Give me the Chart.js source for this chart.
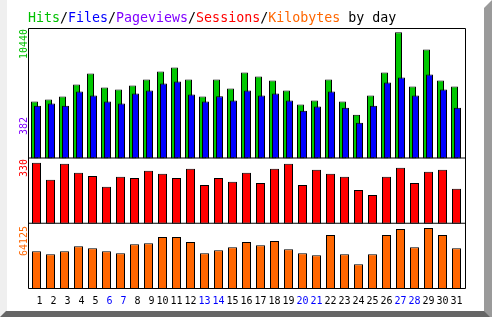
<!DOCTYPE html>
<html>
<head>
<meta charset="utf-8">
<script src="https://cdn.jsdelivr.net/npm/chart.js@4.4.1/dist/chart.umd.min.js"></script>
<style>
  html, body { margin: 0; padding: 0; background: #fff; }
  canvas { display: block; }
</style>
</head>
<body>
<canvas id="dailyChart" width="492" height="317"></canvas>
<script>
// daily usage
const days = [1, 2, 3, 4, 5, 6, 7, 8, 9, 10, 11, 12, 13, 14, 15, 16, 17, 18, 19, 20, 21, 22, 23, 24, 25, 26, 27, 28, 29, 30, 31];
const weekendDays = [6, 7, 13, 14, 20, 21, 27, 28];

const hits = [4710, 4875, 5125, 6120, 7035, 5870, 5705, 6040, 6535, 7200, 7535, 6535, 5125, 6535, 5790, 7115,
  6785, 6455, 5620, 4460, 4790, 6535, 4710, 3630, 5205, 7115, 10440, 5955, 9030, 6455, 5955];
const files = [4375, 4545, 4375, 5540, 5205, 4710, 4545, 5375, 5620, 6205, 6370, 5290, 4710, 5150, 4790, 5620,
  5205, 5375, 4790, 3960, 4295, 5540, 4210, 2965, 4375, 6285, 6700, 5205, 6950, 5705, 4210];
const sessions = [330, 238, 325, 276, 259, 200, 254, 248, 287, 270, 248, 297, 210, 248, 227, 276,
  221, 297, 325, 210, 292, 270, 254, 183, 156, 254, 303, 221, 281, 292, 189];
const kbytes = [39826, 36657, 39826, 45108, 42996, 39826, 37713, 47221, 48278, 54616, 54616, 49334, 37713, 40883, 44052, 49334,
  46165, 50390, 41939, 37713, 35601, 56729, 36657, 26093, 36657, 56729, 63067, 44052, 64125, 56729, 42996];
const maxPageviews = 382;

const titleParts = [
  ["Hits", "#00c000"], ["/", "#000"], ["Files", "#0000ff"], ["/", "#000"],
  ["Pageviews", "#8000ff"], ["/", "#000"], ["Sessions", "#ff0000"], ["/", "#000"],
  ["Kilobytes", "#ff6600"], [" by day", "#000"]
];

const MONO = "'DejaVu Sans Mono', 'Liberation Mono', monospace";

// bevelled frame + title behind the chart
const framePlugin = {
  id: "frame",
  beforeDraw(chart) {
    const ctx = chart.ctx;
    ctx.save();
    ctx.fillStyle = "#fff";
    ctx.fillRect(0, 0, 492, 317);
    ctx.fillStyle = "#efefef";
    ctx.fillRect(0, 0, 7, 317);
    ctx.fillStyle = "#9a9a9a";
    ctx.beginPath();
    ctx.moveTo(492, 0); ctx.lineTo(492, 317); ctx.lineTo(484, 317); ctx.lineTo(484, 8);
    ctx.closePath(); ctx.fill();
    ctx.fillStyle = "#666";
    ctx.beginPath();
    ctx.moveTo(6, 311); ctx.lineTo(484, 311); ctx.lineTo(490, 317); ctx.lineTo(0, 317);
    ctx.closePath(); ctx.fill();

    // multicoloured title
    ctx.font = "13.3px " + MONO;
    ctx.textBaseline = "alphabetic";
    let x = 28;
    titleParts.forEach(([txt, col]) => {
      ctx.fillStyle = col;
      ctx.fillText(txt, x, 22);
      x += ctx.measureText(txt).width;
    });
    ctx.restore();
  },
  // small side shift so hits and files bars overlap
  beforeDatasetDraw(chart, args) {
    const shift = chart.data.datasets[args.index].shift || 0;
    chart.ctx.save();
    chart.ctx.translate(shift, 0);
  },
  afterDatasetDraw(chart) {
    chart.ctx.restore();
  },
  afterDraw(chart) {
    const ctx = chart.ctx;
    const area = chart.chartArea;
    const s = chart.scales;
    const left = Math.floor(area.left) - 1 + 0.5;
    const right = Math.floor(area.right) + 2 + 0.5;
    ctx.save();
    ctx.strokeStyle = "#000";
    ctx.lineWidth = 1;
    ctx.beginPath();
    ctx.rect(left, area.top + 0.5, right - left, area.bottom - area.top - 1);
    ctx.moveTo(left, s.yHits.bottom - 0.5); ctx.lineTo(right, s.yHits.bottom - 0.5);
    ctx.moveTo(left, s.ySess.bottom - 0.5); ctx.lineTo(right, s.ySess.bottom - 0.5);
    ctx.stroke();

    // rotated max labels on the left
    ctx.font = "10px " + MONO;
    const side = [
      [String(Math.max(...hits)), "#00c000", 59],
      [String(maxPageviews), "#8000ff", 135],
      [String(Math.max(...sessions)), "#ff0000", 177],
      [String(Math.max(...kbytes)), "#ff6600", 256]
    ];
    side.forEach(([txt, col, y]) => {
      ctx.save();
      ctx.translate(27, y);
      ctx.rotate(-Math.PI / 2);
      ctx.fillStyle = col;
      ctx.textAlign = "left";
      ctx.textBaseline = "alphabetic";
      ctx.fillText(txt, 0, 0);
      ctx.restore();
    });
    ctx.restore();
  }
};

const barBase = { borderColor: "#000", borderWidth: 1, borderSkipped: false, grouped: false, categoryPercentage: 1 };

new Chart(document.getElementById("dailyChart"), {
  type: "bar",
  data: {
    labels: days,
    datasets: [
      Object.assign({ label: "Hits", data: hits, backgroundColor: "#00c800", yAxisID: "yHits", barPercentage: 0.5, shift: -2, order: 1 }, barBase),
      Object.assign({ label: "Files", data: files, backgroundColor: "#0000ff", yAxisID: "yHits", barPercentage: 0.5, shift: 1, order: 0 }, barBase),
      Object.assign({ label: "Sessions", data: sessions, backgroundColor: "#ff0000", yAxisID: "ySess", barPercentage: 9 / 14 }, barBase),
      Object.assign({ label: "Kilobytes", data: kbytes, backgroundColor: "#ff6600", yAxisID: "yKb", barPercentage: 9 / 14 }, barBase)
    ]
  },
  options: {
    responsive: false,
    animation: false,
    devicePixelRatio: 1,
    layout: { padding: { left: 29.5, right: 28.5, top: 28, bottom: 4 } },
    plugins: { legend: { display: false }, tooltip: { enabled: false }, title: { display: false } },
    scales: {
      x: {
        grid: { display: false, drawTicks: false },
        border: { display: false },
        ticks: {
          autoSkip: false,
          maxRotation: 0,
          padding: 6,
          font: { family: MONO, size: 10 },
          color: (c) => weekendDays.includes(days[c.index]) ? "#0000ff" : "#000",
          callback: (v, i) => String(days[i]).padStart(2, " ")
        }
      },
      // stacked panels: listed bottom first
      yKb: { position: "left", stack: "daily", stackWeight: 1, min: 0, max: 68670, display: false },
      ySess: { position: "left", stack: "daily", stackWeight: 1, min: 0, max: 353, display: false },
      yHits: { position: "left", stack: "daily", stackWeight: 2, min: 0, max: 10800, display: false }
    }
  },
  plugins: [framePlugin]
});
</script>
</body>
</html>
